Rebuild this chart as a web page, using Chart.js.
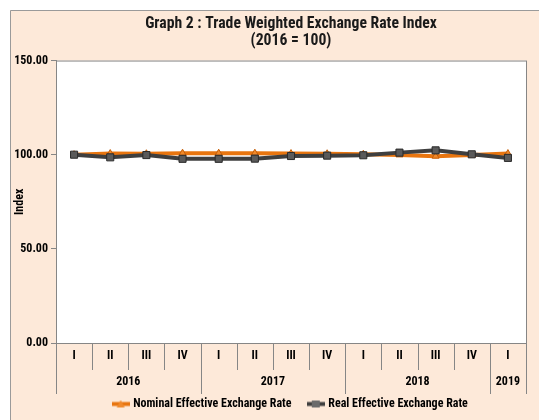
<!DOCTYPE html>
<html>
<head>
<meta charset="utf-8">
<script src="https://cdn.jsdelivr.net/npm/chart.js@4.4.1/dist/chart.umd.min.js"></script>
<style>
  html, body { margin: 0; padding: 0; background: #ffffff; }
  #chart { position: absolute; left: 0; top: 0; }
</style>
</head>
<body>
<canvas id="chart" width="539" height="420"></canvas>
<script>
// quarters on the axis, years grouped under them
const quarters = ['I', 'II', 'III', 'IV', 'I', 'II', 'III', 'IV', 'I', 'II', 'III', 'IV', 'I'];
const years = ['2016', '2017', '2018', '2019'];
const yearSpans = [4, 4, 4, 1];

// index values, 2016 = 100
const nominal = [100.0, 100.6, 100.5, 100.8, 100.8, 100.8, 100.6, 100.5, 100.2, 99.9, 99.2, 99.8, 100.6];
const real = [100.0, 98.6, 99.8, 97.8, 97.8, 97.9, 99.3, 99.5, 99.7, 101.1, 102.3, 100.2, 98.3];

const yTicks = [0, 50, 100, 150];

const FONT = "'Roboto Condensed', 'DejaVu Sans Condensed', sans-serif";
const ORANGE = '#E8750F';
const DARK = '#3F3F3F';
const AXIS = '#868686';

function legendIcon(color, markerColor, shape) {
    const c = document.createElement('canvas');
    c.width = 18;
    c.height = 9;
    const ctx = c.getContext('2d');
    ctx.strokeStyle = color;
    ctx.lineWidth = 4;
    ctx.beginPath();
    ctx.moveTo(0, 4.5);
    ctx.lineTo(18, 4.5);
    ctx.stroke();
    ctx.fillStyle = markerColor;
    if (shape === 'triangle') {
        ctx.beginPath();
        ctx.moveTo(9, 0.5);
        ctx.lineTo(13, 8);
        ctx.lineTo(5, 8);
        ctx.closePath();
        ctx.fill();
    } else {
        ctx.fillRect(5, 1, 8, 7);
    }
    return c;
}

const background = {
    id: 'background',
    beforeDraw(chart) {
        const ctx = chart.ctx;
        const a = chart.chartArea;
        ctx.save();
        ctx.fillStyle = '#FDE9D9';
        ctx.fillRect(10, 10, chart.width - 10, chart.height - 10);
        ctx.strokeStyle = '#9a9a9a';
        ctx.lineWidth = 1;
        ctx.beginPath();
        ctx.moveTo(10.5, chart.height);
        ctx.lineTo(10.5, 10.5);
        ctx.lineTo(chart.width, 10.5);
        ctx.stroke();
        ctx.fillStyle = '#ffffff';
        ctx.fillRect(a.left, a.top, a.right - a.left, a.bottom - a.top);
        ctx.strokeStyle = AXIS;
        ctx.strokeRect(a.left + 0.5, a.top + 0.5, a.right - a.left, a.bottom - a.top);
        ctx.restore();
    }
};

const yearAxis = {
    id: 'yearAxis',
    afterDraw(chart) {
        const ctx = chart.ctx;
        const x = chart.scales.x;
        const step = (x.right - x.left) / quarters.length;
        const top = x.top;
        ctx.save();
        ctx.strokeStyle = AXIS;
        ctx.lineWidth = 1;
        const yearEdges = [0];
        yearSpans.forEach((n, i) => yearEdges.push(yearEdges[i] + n));
        for (let i = 0; i <= quarters.length; i++) {
            const px = Math.round(x.left + i * step) + 0.5;
            const long = yearEdges.includes(i);
            ctx.beginPath();
            ctx.moveTo(px, top);
            ctx.lineTo(px, top + (long ? 51 : 27));
            ctx.stroke();
        }
        ctx.fillStyle = '#000000';
        ctx.font = 'bold 12px ' + FONT;
        ctx.textAlign = 'center';
        ctx.textBaseline = 'middle';
        years.forEach((yr, i) => {
            const mid = x.left + (yearEdges[i] + yearSpans[i] / 2) * step;
            ctx.fillText(yr, mid, top + 39);
        });
        ctx.restore();
    }
};

new Chart(document.getElementById('chart'), {
    type: 'line',
    data: {
        labels: quarters,
        datasets: [{
            label: 'Nominal Effective Exchange Rate',
            data: nominal,
            borderColor: ORANGE,
            backgroundColor: ORANGE,
            borderWidth: 4,
            pointStyle: 'triangle',
            pointRadius: 4,
            pointBackgroundColor: '#F08A2C',
            pointBorderColor: '#C55E08',
            pointBorderWidth: 1,
            order: 2
        }, {
            label: 'Real Effective Exchange Rate',
            data: real,
            borderColor: DARK,
            backgroundColor: DARK,
            borderWidth: 4,
            pointStyle: 'rect',
            pointRadius: 5,
            pointBackgroundColor: '#5A5A5A',
            pointBorderColor: '#2A2A2A',
            pointBorderWidth: 1,
            order: 1
        }]
    },
    options: {
        responsive: false,
        animation: false,
        devicePixelRatio: 1,
        layout: { padding: { top: 10, left: 10, right: 13, bottom: 0 } },
        plugins: {
            title: {
                display: true,
                fullSize: false,
                text: ['Graph 2 : Trade Weighted Exchange Rate Index', '(2016 = 100)'],
                color: '#1a1a1a',
                font: { family: FONT, size: 15.7, weight: 'bold', lineHeight: 1.1 },
                padding: { top: 5, bottom: 11 }
            },
            legend: {
                position: 'bottom',
                fullSize: false,
                labels: {
                    color: '#000000',
                    font: { family: FONT, size: 12, weight: 'bold' },
                    usePointStyle: true,
                    pointStyleWidth: 13,
                    padding: 4,
                    generateLabels: () => [{
                        // trailing spaces widen the gap before the second entry
                        text: 'Nominal Effective Exchange Rate     ',
                        pointStyle: legendIcon(ORANGE, '#F08A2C', 'triangle'),
                        fontColor: '#000000',
                        datasetIndex: 0
                    }, {
                        text: 'Real Effective Exchange Rate',
                        pointStyle: legendIcon(DARK, '#6A6A6A', 'rect'),
                        fontColor: '#000000',
                        datasetIndex: 1
                    }]
                }
            },
            tooltip: { enabled: false }
        },
        scales: {
            x: {
                offset: true,
                grid: { display: false, drawTicks: false },
                border: { display: true, color: AXIS },
                ticks: {
                    color: '#000000',
                    font: { family: FONT, size: 12, weight: 'bold' },
                    padding: 6,
                    maxRotation: 0,
                    autoSkip: false
                },
                afterFit: (scale) => { scale.height = 51; }
            },
            y: {
                min: 0,
                max: 150,
                afterBuildTicks: (scale) => { scale.ticks = yTicks.map(v => ({ value: v })); },
                grid: { drawOnChartArea: false, drawTicks: true, tickLength: 5, color: AXIS },
                border: { display: true, color: AXIS },
                ticks: {
                    color: '#000000',
                    font: { family: FONT, size: 12, weight: 'bold' },
                    padding: 3,
                    callback: (v) => Number(v).toFixed(2)
                },
                title: {
                    display: true,
                    text: 'Index',
                    color: '#000000',
                    font: { family: FONT, size: 12, weight: 'bold' },
                    padding: { top: 3, bottom: 0 }
                },
                afterFit: (scale) => { scale.width = 46; }
            }
        }
    },
    plugins: [background, yearAxis]
});
</script>
</body>
</html>
